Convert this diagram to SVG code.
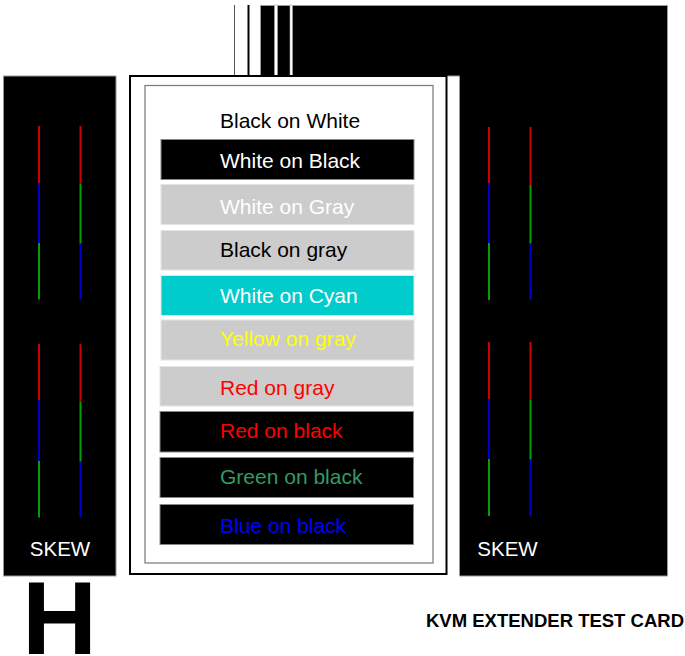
<svg xmlns="http://www.w3.org/2000/svg" width="685" height="656" viewBox="0 0 685 656">
<style>
.panel{fill:#000;stroke:#999;stroke-width:1}
.gap{fill:#fff;stroke:#aaa;stroke-width:0.6}
.bar{stroke-width:1}
.bk{fill:#000;stroke:#888}
.gy{fill:#cccccc;stroke:#e4e4e4}
.cy{fill:#00cccc;stroke:#e4e4e4}
.t{font-family:"Liberation Sans",Arial,sans-serif;font-size:21px}
.skew{font-family:"Liberation Sans",Arial,sans-serif;font-size:20.5px;fill:#fff;text-anchor:middle}
.s{stroke-width:2;fill:none}
.r{stroke:#cc0000}.b{stroke:#0000cc}.g{stroke:#00a000}
</style>
<rect width="685" height="656" fill="#fff"/>
<g id="top-lines">
<line x1="234.5" y1="5" x2="234.5" y2="76" stroke="#555" stroke-width="1"/>
<line x1="248.5" y1="5" x2="248.5" y2="76" stroke="#000" stroke-width="2"/>
</g>
<g id="right-block">
<path class="panel" d="M260.5,5.5 H667.5 V576 H459.5 V76 H260.5 Z"/>
<rect class="gap" x="274.5" y="5" width="3" height="71"/>
<rect class="gap" x="290" y="5" width="2.4" height="71"/>
<g class="s r"><line x1="489" y1="127" x2="489" y2="183"/><line x1="530.5" y1="127" x2="530.5" y2="185"/><line x1="489" y1="342" x2="489" y2="399"/><line x1="530.5" y1="342" x2="530.5" y2="400"/></g>
<g class="s b"><line x1="489" y1="183" x2="489" y2="243"/><line x1="530.5" y1="243.5" x2="530.5" y2="300"/><line x1="489" y1="399" x2="489" y2="459"/><line x1="530.5" y1="459.5" x2="530.5" y2="516"/></g>
<g class="s g"><line x1="489" y1="243" x2="489" y2="300"/><line x1="530.5" y1="185" x2="530.5" y2="243.5"/><line x1="489" y1="459" x2="489" y2="516"/><line x1="530.5" y1="400" x2="530.5" y2="459.5"/></g>
<text class="skew" x="507.5" y="556">SKEW</text>
</g>
<g id="left-block">
<rect class="panel" x="3.5" y="76" width="112.5" height="500"/>
<g class="s r"><line x1="39" y1="126" x2="39" y2="183"/><line x1="80.5" y1="126" x2="80.5" y2="184"/><line x1="39" y1="344" x2="39" y2="400"/><line x1="80.5" y1="344" x2="80.5" y2="402"/></g>
<g class="s b"><line x1="39" y1="183" x2="39" y2="243"/><line x1="80.5" y1="243.5" x2="80.5" y2="299.5"/><line x1="39" y1="400" x2="39" y2="461"/><line x1="80.5" y1="461.5" x2="80.5" y2="517.5"/></g>
<g class="s g"><line x1="39" y1="243" x2="39" y2="299.5"/><line x1="80.5" y1="184" x2="80.5" y2="243.5"/><line x1="39" y1="461" x2="39" y2="517.5"/><line x1="80.5" y1="402" x2="80.5" y2="461.5"/></g>
<text class="skew" x="60" y="556">SKEW</text>
</g>
<g id="color-card">
<rect x="130" y="76" width="316.5" height="498" fill="#fff" stroke="#000" stroke-width="2"/>
<rect x="145" y="85.5" width="288" height="477.5" fill="#fff" stroke="#777" stroke-width="1.2"/>
<text class="t" x="220" y="127.5" fill="#000">Black on White</text>
<g id="bar-white-on-black"><rect class="bar bk" x="161" y="139.5" width="253" height="40"/><text class="t" x="220" y="167.5" fill="#fff">White on Black</text></g>
<g id="bar-white-on-gray"><rect class="bar gy" x="161" y="184.5" width="253" height="40"/><text class="t" x="220" y="214" fill="#fff">White on Gray</text></g>
<g id="bar-black-on-gray"><rect class="bar gy" x="161" y="230.5" width="253" height="39.5"/><text class="t" x="220" y="257" fill="#000">Black on gray</text></g>
<g id="bar-white-on-cyan"><rect class="bar cy" x="161" y="275.5" width="253" height="40"/><text class="t" x="220" y="302.5" fill="#fff">White on Cyan</text></g>
<g id="bar-yellow-on-gray"><rect class="bar gy" x="161" y="320" width="253" height="40"/><text class="t" x="220" y="345.5" fill="#ffff00">Yellow on gray</text></g>
<g id="bar-red-on-gray"><rect class="bar gy" x="160" y="366.5" width="253.5" height="39.5"/><text class="t" x="220" y="395" fill="#ff0000">Red on gray</text></g>
<g id="bar-red-on-black"><rect class="bar bk" x="160" y="411.5" width="253.5" height="40.5"/><text class="t" x="220" y="437.5" fill="#ff0000">Red on black</text></g>
<g id="bar-green-on-black"><rect class="bar bk" x="160" y="457.5" width="253.5" height="40"/><text class="t" x="220" y="483.5" fill="#339966">Green on black</text></g>
<g id="bar-blue-on-black"><rect class="bar bk" x="160" y="504.5" width="253.5" height="40"/><text class="t" x="220" y="532.5" fill="#0000ff">Blue on black</text></g>
</g>
<g id="labels">
<text x="59.5" y="654" font-family="'Liberation Sans',Arial,sans-serif" font-weight="bold" font-size="104" text-anchor="middle" fill="#000">H</text>
<text x="426" y="626.5" font-family="'Liberation Sans',Arial,sans-serif" font-weight="bold" font-size="18.5" fill="#000">KVM EXTENDER TEST CARD</text>
</g>
</svg>
